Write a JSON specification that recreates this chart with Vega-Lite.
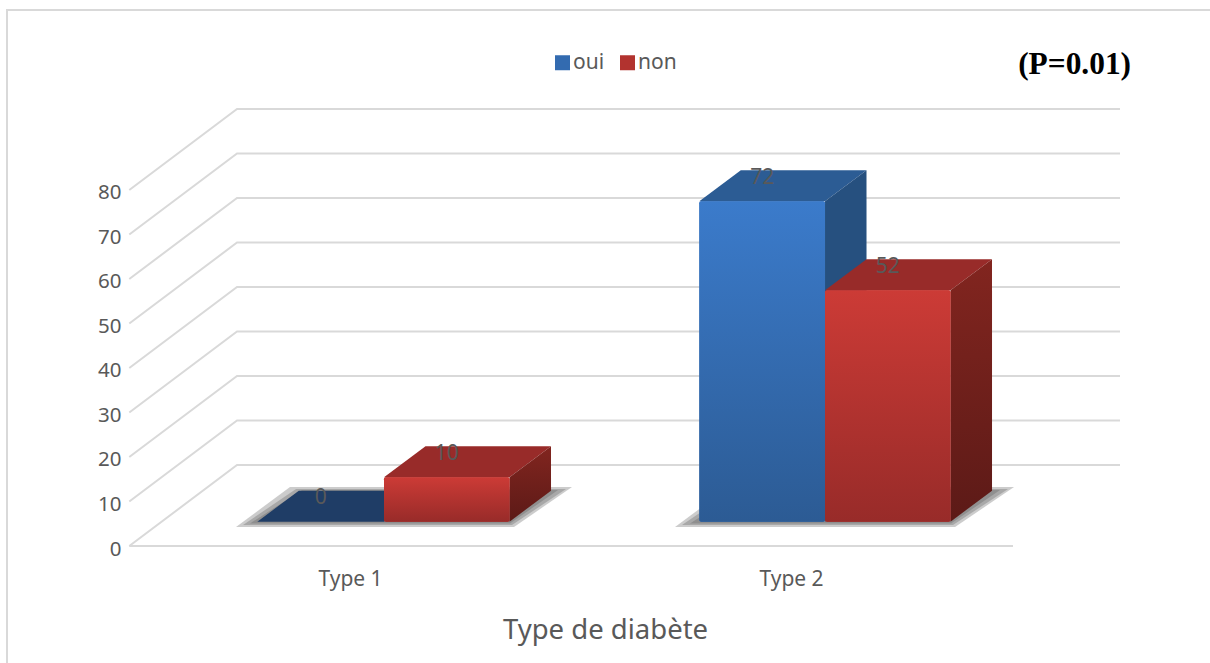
{
  "$schema": "https://vega.github.io/schema/vega-lite/v6.json",
  "width": 1205,
  "height": 660,
  "autosize": "none",
  "padding": {"left": 7, "top": 10, "right": 0, "bottom": 0},
  "background": "white",
  "view": {"stroke": "#d9d9d9", "strokeWidth": 2, "fill": null},
  "config": {"font": "Noto Sans"},
  "datasets": {
    "bars": [
      {"type": "Type 1", "series": "oui", "value": 0, "x0": 0.7898, "x1": 1.0771, "xc": 0.9334},
      {"type": "Type 1", "series": "non", "value": 10, "x0": 1.0771, "x1": 1.3617, "xc": 1.2194},
      {"type": "Type 2", "series": "oui", "value": 72, "x0": 1.7921, "x1": 2.0771, "xc": 1.9346},
      {"type": "Type 2", "series": "non", "value": 52, "x0": 2.0771, "x1": 2.3617, "xc": 2.2194}
    ],
    "topFaces": [
      {"bar": "T1 oui", "y": 0, "xa": 0.7898, "xb": 1.0771},
      {"bar": "T1 oui", "y": 6.97, "xa": 0.8839, "xb": 1.1712},
      {"bar": "T2 oui", "y": 72, "xa": 1.7921, "xb": 2.0771},
      {"bar": "T2 oui", "y": 78.97, "xa": 1.8862, "xb": 2.1712},
      {"bar": "T1 non", "y": 10, "xa": 1.0771, "xb": 1.3617},
      {"bar": "T1 non", "y": 16.97, "xa": 1.1712, "xb": 1.4558},
      {"bar": "T2 non", "y": 52, "xa": 2.0771, "xb": 2.3617},
      {"bar": "T2 non", "y": 58.97, "xa": 2.1712, "xb": 2.4558}
    ],
    "sideFaces": [
      {"bar": "T2 oui", "x": 2.0771, "y": 72, "y2": 0},
      {"bar": "T2 oui", "x": 2.1712, "y": 78.97, "y2": 6.97},
      {"bar": "T1 non", "x": 1.3617, "y": 10, "y2": 0},
      {"bar": "T1 non", "x": 1.4558, "y": 16.97, "y2": 6.97},
      {"bar": "T2 non", "x": 2.3617, "y": 52, "y2": 0},
      {"bar": "T2 non", "x": 2.4558, "y": 58.97, "y2": 6.97}
    ],
    "shadows": [
      {"id": "a1", "y": 4.27, "xa": 0.7415, "xb": 1.3719},
      {"id": "a1", "y": 13.26, "xa": 0.8639, "xb": 1.5034},
      {"id": "a2", "y": 4.72, "xa": 0.7574, "xb": 1.3673},
      {"id": "a2", "y": 12.81, "xa": 0.8776, "xb": 1.4898},
      {"id": "a3", "y": 5.06, "xa": 0.7732, "xb": 1.3628},
      {"id": "a3", "y": 12.58, "xa": 0.8912, "xb": 1.4717},
      {"id": "b1", "y": 4.27, "xa": 1.737, "xb": 2.372},
      {"id": "b1", "y": 13.26, "xa": 1.8594, "xb": 2.5057},
      {"id": "b2", "y": 4.72, "xa": 1.7528, "xb": 2.3673},
      {"id": "b2", "y": 12.81, "xa": 1.873, "xb": 2.4921},
      {"id": "b3", "y": 5.06, "xa": 1.771, "xb": 2.3628},
      {"id": "b3", "y": 12.58, "xa": 1.8889, "xb": 2.474}
    ],
    "grid": [
      {"v": "0", "x": 0.4995, "y": 0}, {"v": "0", "x": 0.7438, "y": 18.2}, {"v": "0", "x": 2.746, "y": 18.2},
      {"v": "10", "x": 0.4995, "y": 10}, {"v": "10", "x": 0.7438, "y": 28.2}, {"v": "10", "x": 2.746, "y": 28.2},
      {"v": "20", "x": 0.4995, "y": 20}, {"v": "20", "x": 0.7438, "y": 38.2}, {"v": "20", "x": 2.746, "y": 38.2},
      {"v": "30", "x": 0.4995, "y": 30}, {"v": "30", "x": 0.7438, "y": 48.2}, {"v": "30", "x": 2.746, "y": 48.2},
      {"v": "40", "x": 0.4995, "y": 40}, {"v": "40", "x": 0.7438, "y": 58.2}, {"v": "40", "x": 2.746, "y": 58.2},
      {"v": "50", "x": 0.4995, "y": 50}, {"v": "50", "x": 0.7438, "y": 68.2}, {"v": "50", "x": 2.746, "y": 68.2},
      {"v": "60", "x": 0.4995, "y": 60}, {"v": "60", "x": 0.7438, "y": 78.2}, {"v": "60", "x": 2.746, "y": 78.2},
      {"v": "70", "x": 0.4995, "y": 70}, {"v": "70", "x": 0.7438, "y": 88.2}, {"v": "70", "x": 2.746, "y": 88.2},
      {"v": "80", "x": 0.4995, "y": 80}, {"v": "80", "x": 0.7438, "y": 98.2}, {"v": "80", "x": 2.746, "y": 98.2},
      {"v": "floor", "x": 0.4995, "y": 0}, {"v": "floor", "x": 2.5034, "y": 0}
    ],
    "note": [{"x": 2.643, "y": 108.1, "text": "(P=0.01)"}]
  },
  "layer": [
    {
      "data": {"name": "grid"},
      "mark": {"type": "line", "color": "#d9d9d9", "strokeWidth": 2},
      "encoding": {
        "x": {
          "field": "x", "type": "quantitative",
          "scale": {"domain": [0.2222, 2.9546], "nice": false, "zero": false},
          "axis": {
            "values": [1, 2], "labelExpr": "'Type ' + datum.value", "title": "Type de diabète",
            "offset": -102, "domain": false, "ticks": false, "grid": false,
            "labelFont": "Noto Sans", "labelFontSize": 21, "labelColor": "#595959", "labelPadding": 0,
            "titleFont": "Noto Sans", "titleFontSize": 27.5, "titleColor": "#595959", "titleFontWeight": "normal",
            "titlePadding": 27, "titleX": 598
          }
        },
        "y": {
          "field": "y", "type": "quantitative",
          "scale": {"domain": [-27.865, 120.449], "nice": false, "zero": false},
          "axis": {
            "values": [0, 10, 20, 30, 40, 50, 60, 70, 80], "title": null,
            "offset": -114, "domain": false, "ticks": false, "grid": false,
            "labelFont": "Noto Sans", "labelFontSize": 20.5, "labelColor": "#595959", "labelPadding": 0, "labelOffset": 3
          }
        },
        "detail": {"field": "v"}
      }
    },
    {
      "data": {"name": "shadows"},
      "mark": {"type": "area", "orient": "horizontal", "color": "#555555", "opacity": 0.3},
      "encoding": {
        "y": {"field": "y", "type": "quantitative", "stack": false},
        "x": {"field": "xa", "type": "quantitative", "stack": false},
        "x2": {"field": "xb"},
        "detail": {"field": "id"}
      }
    },
    {
      "data": {"name": "topFaces"},
      "transform": [{"filter": {"field": "bar", "equal": "T1 oui"}}],
      "mark": {"type": "area", "orient": "horizontal", "color": "#1f3d66", "yOffset": -24.3},
      "encoding": {
        "y": {"field": "y", "type": "quantitative", "stack": false},
        "x": {"field": "xa", "type": "quantitative", "stack": false},
        "x2": {"field": "xb"}
      }
    },
    {
      "data": {"name": "topFaces"},
      "transform": [{"filter": {"field": "bar", "equal": "T2 oui"}}],
      "mark": {"type": "area", "orient": "horizontal", "color": "#2c5c94", "yOffset": -24.3},
      "encoding": {
        "y": {"field": "y", "type": "quantitative", "stack": false},
        "x": {"field": "xa", "type": "quantitative", "stack": false},
        "x2": {"field": "xb"}
      }
    },
    {
      "data": {"name": "sideFaces"},
      "transform": [{"filter": {"field": "bar", "equal": "T2 oui"}}],
      "mark": {"type": "area", "color": "#26507f", "yOffset": -24.3, "y2Offset": -24.3},
      "encoding": {
        "x": {"field": "x", "type": "quantitative", "stack": false},
        "y": {"field": "y", "type": "quantitative", "stack": false},
        "y2": {"field": "y2"}
      }
    },
    {
      "data": {"name": "topFaces"},
      "transform": [{"filter": {"field": "bar", "oneOf": ["T1 non", "T2 non"]}}],
      "mark": {"type": "area", "orient": "horizontal", "color": "#982b29", "yOffset": -24.3},
      "encoding": {
        "y": {"field": "y", "type": "quantitative", "stack": false},
        "x": {"field": "xa", "type": "quantitative", "stack": false},
        "x2": {"field": "xb"},
        "detail": {"field": "bar"}
      }
    },
    {
      "data": {"name": "sideFaces"},
      "transform": [{"filter": {"field": "bar", "oneOf": ["T1 non", "T2 non"]}}],
      "mark": {
        "type": "area", "yOffset": -24.3, "y2Offset": -24.3,
        "color": {"gradient": "linear", "x1": 0, "y1": 0, "x2": 0, "y2": 1,
          "stops": [{"offset": 0, "color": "#82251f"}, {"offset": 1, "color": "#5c1a17"}]}
      },
      "encoding": {
        "x": {"field": "x", "type": "quantitative", "stack": false},
        "y": {"field": "y", "type": "quantitative", "stack": false},
        "y2": {"field": "y2"},
        "detail": {"field": "bar"}
      }
    },
    {
      "data": {"name": "bars"},
      "mark": {"type": "rect", "yOffset": -24.3, "y2Offset": -24.3, "cornerRadius": 2},
      "encoding": {
        "x": {"field": "x0", "type": "quantitative"},
        "x2": {"field": "x1"},
        "y": {"field": "value", "type": "quantitative"},
        "y2": {"datum": 0},
        "color": {
          "field": "series", "type": "nominal",
          "scale": {"domain": ["oui", "non"], "range": ["#336bb0", "#b2332f"]},
          "legend": {
            "orient": "none", "legendX": 545, "legendY": 42, "direction": "horizontal", "columns": 2,
            "title": null, "symbolType": "square", "symbolSize": 225, "symbolStrokeWidth": 0,
            "labelFont": "Noto Sans", "labelFontSize": 21, "labelColor": "#595959", "labelOffset": 0, "columnPadding": 12
          }
        }
      }
    },
    {
      "data": {"name": "bars"},
      "transform": [{"filter": {"field": "series", "equal": "oui"}}],
      "mark": {
        "type": "rect", "yOffset": -24.3, "y2Offset": -24.3, "cornerRadius": 2,
        "color": {"gradient": "linear", "x1": 0, "y1": 0, "x2": 0, "y2": 1,
          "stops": [{"offset": 0, "color": "#3b7bcb"}, {"offset": 1, "color": "#2c5b94"}]}
      },
      "encoding": {
        "x": {"field": "x0", "type": "quantitative"},
        "x2": {"field": "x1"},
        "y": {"field": "value", "type": "quantitative"},
        "y2": {"datum": 0}
      }
    },
    {
      "data": {"name": "bars"},
      "transform": [{"filter": {"field": "series", "equal": "non"}}],
      "mark": {
        "type": "rect", "yOffset": -24.3, "y2Offset": -24.3, "cornerRadius": 2,
        "color": {"gradient": "linear", "x1": 0, "y1": 0, "x2": 0, "y2": 1,
          "stops": [{"offset": 0, "color": "#cc3b36"}, {"offset": 1, "color": "#982b29"}]}
      },
      "encoding": {
        "x": {"field": "x0", "type": "quantitative"},
        "x2": {"field": "x1"},
        "y": {"field": "value", "type": "quantitative"},
        "y2": {"datum": 0}
      }
    },
    {
      "data": {"name": "bars"},
      "mark": {"type": "text", "fontSize": 21, "font": "Noto Sans", "color": "#595959", "yOffset": -48},
      "encoding": {
        "x": {"field": "xc", "type": "quantitative"},
        "y": {"field": "value", "type": "quantitative"},
        "text": {"field": "value", "type": "quantitative"}
      }
    },
    {
      "data": {"name": "note"},
      "mark": {"type": "text", "fontSize": 31.4, "font": "Liberation Serif", "fontWeight": "bold", "color": "#000000"},
      "encoding": {
        "x": {"field": "x", "type": "quantitative"},
        "y": {"field": "y", "type": "quantitative"},
        "text": {"field": "text"}
      }
    }
  ]
}
